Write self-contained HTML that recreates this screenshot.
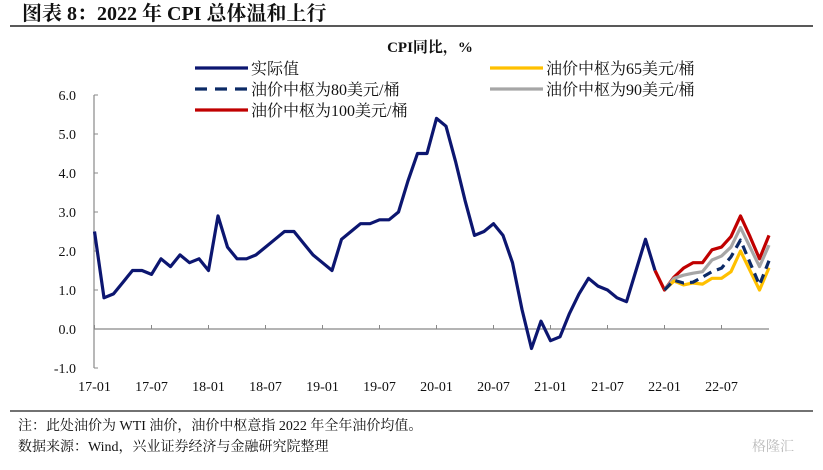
<!DOCTYPE html>
<html><head><meta charset="utf-8"><style>
body{margin:0;background:#fff;}
svg text{font-family:"Liberation Serif","Noto Serif CJK SC",serif;fill:#111;}
</style></head><body>
<svg width="823" height="465" viewBox="0 0 823 465" xmlns="http://www.w3.org/2000/svg">
<text x="22" y="20" font-size="20" font-weight="bold">图表 8：2022 年 CPI 总体温和上行</text>
<line x1="10" y1="26" x2="813" y2="26" stroke="#222" stroke-width="1.5"/>
<text x="430" y="52" font-size="15" font-weight="bold" text-anchor="middle">CPI同比，%</text>
<g id="legend"></g>
<g id="axes"></g>
<g id="series"></g>
<line x1="10" y1="411" x2="813" y2="411" stroke="#444" stroke-width="1.5"/>
<text x="18" y="430" font-size="14">注：此处油价为 WTI 油价，油价中枢意指 2022 年全年油价均值。</text>
<text x="18" y="451" font-size="14">数据来源：Wind，兴业证券经济与金融研究院整理</text>
<text x="752" y="451" font-size="14" fill="#bbb" style="fill:#bbb">格隆汇</text>
</svg>
<script>
const actual=[2.5,0.8,0.9,1.2,1.5,1.5,1.4,1.8,1.6,1.9,1.7,1.8,
1.5,2.9,2.1,1.8,1.8,1.9,2.1,2.3,2.5,2.5,2.2,1.9,
1.7,1.5,2.3,2.5,2.7,2.7,2.8,2.8,3.0,3.8,4.5,4.5,
5.4,5.2,4.3,3.3,2.4,2.5,2.7,2.4,1.7,0.5,-0.5,0.2,
-0.3,-0.2,0.4,0.9,1.3,1.1,1.0,0.8,0.7,1.5,2.3,1.5];
const s65=[1.0,1.23,1.13,1.18,1.15,1.3,1.3,1.47,2.0,1.5,1.0,1.57];
const s80=[1.0,1.25,1.18,1.2,1.33,1.47,1.56,1.85,2.28,1.7,1.13,1.75];
const s90=[1.0,1.3,1.38,1.43,1.47,1.77,1.87,2.1,2.6,2.1,1.6,2.15];
const s100=[1.5,1.0,1.33,1.56,1.7,1.7,2.03,2.1,2.37,2.9,2.37,1.8,2.4];
const yTicks=["-1.0","0.0","1.0","2.0","3.0","4.0","5.0","6.0"];
const xLabels=["17-01","17-07","18-01","18-07","19-01","19-07","20-01","20-07","21-01","21-07","22-01","22-07"];
const NS="http://www.w3.org/2000/svg";
const X=i=>94.5+i*9.5, Y=v=>329-v*39;
function el(t,a,p){const e=document.createElementNS(NS,t);for(const k in a)e.setAttribute(k,a[k]);document.getElementById(p).appendChild(e);return e;}
let a=el('line',{x1:94,y1:Y(6),x2:94,y2:Y(-1),stroke:'#888','stroke-width':1.2},'axes');


a=el('line',{x1:94,y1:Y(0),x2:769,y2:Y(0),stroke:'#888','stroke-width':1.2},'axes');


yTicks.forEach(t=>{const v=parseFloat(t);
 const l=el('line',{x1:94,y1:Y(v),x2:98,y2:Y(v),stroke:'#888'},'axes');
 
 
 const tx=el('text',{x:76,y:Y(v)+5,'font-size':14,'text-anchor':'end'},'axes');tx.textContent=t;
 
 
});
xLabels.forEach((t,k)=>{const x=X(k*6);
 const l=el('line',{x1:x,y1:Y(0),x2:x,y2:Y(0)-4,stroke:'#888'},'axes');
 
 
 const tx=el('text',{x:x,y:391,'font-size':14,'text-anchor':'middle'},'axes');tx.textContent=t;
 
 
});
function line(arr,start,color,name,dash){
 const p=el('polyline',{points:arr.map((v,i)=>X(start+i)+','+Y(v)).join(' '),fill:'none',stroke:color,'stroke-width':3.2,'stroke-linejoin':'round'},'series');
 if(dash)p.setAttribute('stroke-dasharray',dash);
 
 
}
line(actual,0,'#0c1670','actual-line');
line(s100,59,'#c00000','oil-100-line');
line(s90,60,'#a6a6a6','oil-90-line');
line(s65,60,'#ffc000','oil-65-line');
line(s80,60,'#0c2a66','oil-80-line','9,6');
const leg=[[195,68,'#0c1670','实际值',null],[195,89,'#0c2a66','油价中枢为80美元/桶','12,8'],[195,110,'#c00000','油价中枢为100美元/桶',null],
[490,68,'#ffc000','油价中枢为65美元/桶',null],[490,89,'#a6a6a6','油价中枢为90美元/桶',null]];
leg.forEach(([x,y,c,t,d])=>{
 const l=el('line',{x1:x,y1:y,x2:x+53,y2:y,stroke:c,'stroke-width':3.2},'legend');
 if(d)l.setAttribute('stroke-dasharray',d);
 
 
 const tx=el('text',{x:x+56,y:y+6,'font-size':16},'legend');tx.textContent=t;
 
 
});
</script>
</body></html>
